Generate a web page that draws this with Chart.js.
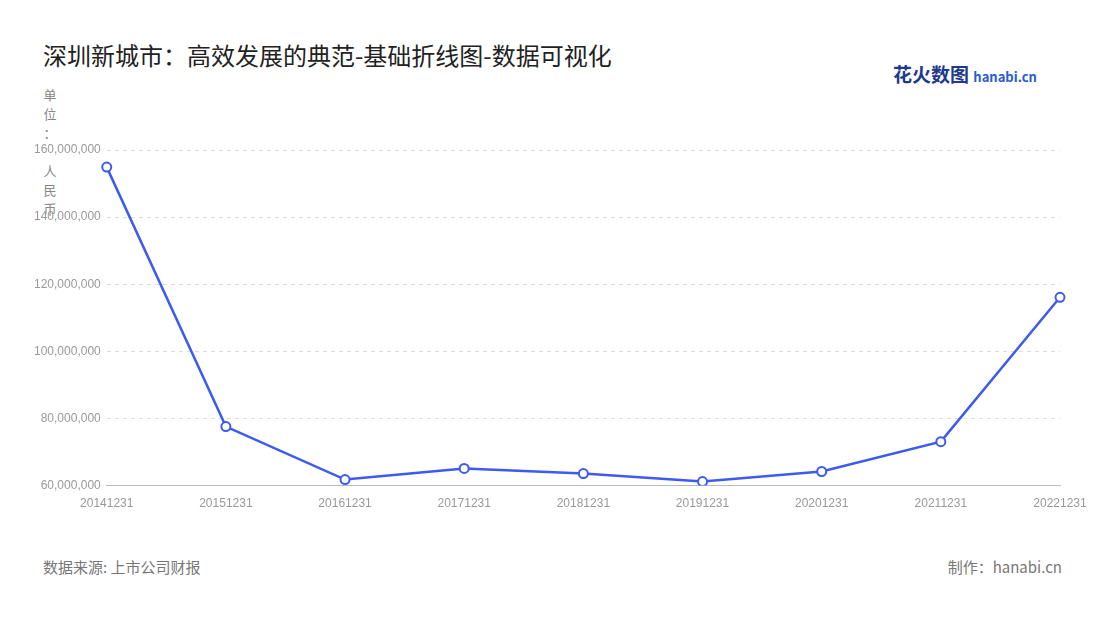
<!DOCTYPE html>
<html><head><meta charset="utf-8">
<script src="https://cdn.jsdelivr.net/npm/chart.js@4"></script>
<style>
body{margin:0;background:#fff;font-family:"Noto Sans CJK SC","Noto Sans",sans-serif;}
#wrap{position:relative;width:1100px;height:620px;}
#title{position:absolute;left:43px;top:37px;font-size:24px;color:#222;}
#unit{position:absolute;left:43px;top:85px;width:14px;font-size:13px;color:#888;line-height:19px;text-align:center;}
#src{position:absolute;left:43px;top:556px;font-size:15px;color:#777;}
#made{position:absolute;right:38px;top:556px;font-size:15px;color:#777;}
#logo{position:absolute;left:893px;top:60px;font-size:19px;font-weight:bold;color:#1e3a8a;}
#logo span{font-size:13px;color:#2a5bd7;}
canvas{position:absolute;left:0;top:0;}
</style></head><body>
<div id="wrap">
<div id="title">深圳新城市：高效发展的典范-基础折线图-数据可视化</div>
<div id="logo">花火数图 <span>hanabi.cn</span></div>
<div id="unit">单<br>位<br>：<br>&nbsp;<br>人<br>民<br>币</div>
<div id="src">数据来源: 上市公司财报</div>
<div id="made">制作：hanabi.cn</div>
<canvas id="c" width="1100" height="620"></canvas>
</div>
<script>
const categories=["20141231","20151231","20161231","20171231","20181231","20191231","20201231","20211231","20221231"];
const values=[154900000,77600000,61800000,65100000,63600000,61200000,64200000,73100000,116100000];
const yTicks=[60000000,80000000,100000000,120000000,140000000,160000000];
new Chart(document.getElementById('c'),{
type:'line',
data:{labels:categories,datasets:[{data:values,borderColor:'#3d5af1',borderWidth:2.5,tension:0,
pointRadius:4.5,pointBackgroundColor:'#fff',pointBorderColor:'#3d5af1',pointBorderWidth:2}]},
options:{responsive:false,animation:false,
layout:{padding:{left:28,right:40,top:150,bottom:106}},
plugins:{legend:{display:false},tooltip:{enabled:false}},
scales:{
x:{offset:false,grid:{display:false},border:{color:'#bbb'},ticks:{color:'#999',font:{size:12},maxRotation:0,autoSkip:false}},
y:{min:60000000,max:160000000,afterBuildTicks:a=>{a.ticks=yTicks.map(v=>({value:v}));},
grid:{color:'#ddd',drawTicks:false},border:{display:false,dash:[4,4]},
ticks:{color:'#999',font:{size:12},padding:6,callback:v=>v.toLocaleString('en-US')}}
}}});
</script>
</body></html>
